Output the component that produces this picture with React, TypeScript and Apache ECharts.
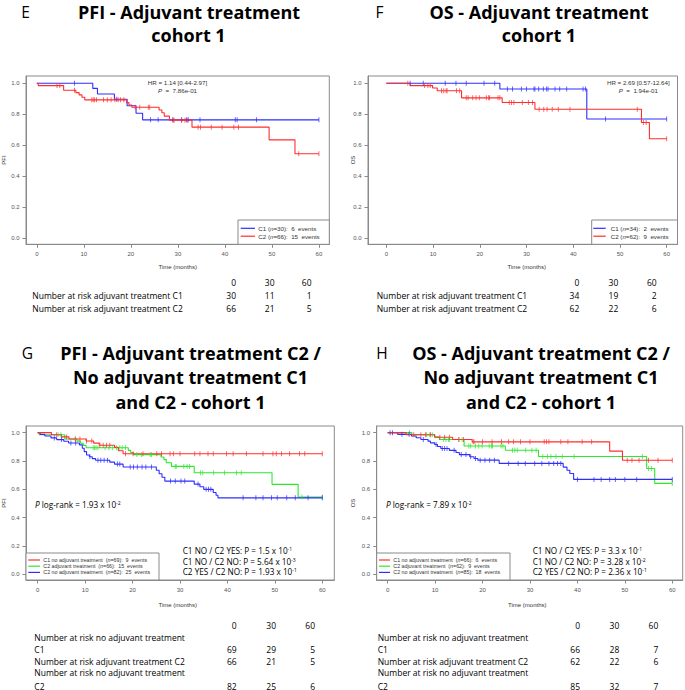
import React, { useEffect, useRef } from "react";
import * as echarts from "echarts";

// ---------- axis ticks ----------
const xTickValues = [0, 10, 20, 30, 40, 50, 60];
const yTickValues = [0, 0.2, 0.4, 0.6, 0.8, 1.0];
const riskTimes = [0, 30, 60];

// ---------- Panel E : PFI, adjuvant treatment, cohort 1 ----------
const eC1Times = [0, 11.9, 12.9, 16.5, 19.2, 21.1, 22.5, 60];
const eC1Surv = [1, 0.967, 0.931, 0.897, 0.855, 0.807, 0.764, 0.764];
const eC1Censor = [8.0, 17.0, 24.2, 25.8, 28.9, 30.8, 31.8, 32.2, 34.7, 42.2, 42.6, 46.7, 60];

// adjuvant-treated C2, PFI (panel E red, panel G green)
const adjC2PfiTimes = [0, 0.3, 5.7, 8.3, 9.0, 9.6, 10.2, 19.1, 19.6, 20.2, 26.0, 26.6, 27.1, 28.2, 33.0, 49.4, 54.9, 60];
const adjC2PfiSurv = [1, 0.985, 0.955, 0.94, 0.925, 0.91, 0.893, 0.875, 0.86, 0.845, 0.828, 0.81, 0.788, 0.762, 0.717, 0.635, 0.545, 0.545];
const adjC2PfiCensor = [4.3, 4.9, 8.0, 11.7, 12.0, 12.3, 12.7, 14.2, 15.0, 15.8, 16.6, 17.3, 17.8, 18.5, 20.9, 21.9, 23.7, 24.0, 29.0, 29.2, 30.8, 31.5, 32.0, 34.3, 34.8, 37.1, 39.4, 41.9, 42.9, 55.7, 60];

// ---------- Panel F : OS, adjuvant treatment, cohort 1 ----------
const fC1Times = [0, 24.3, 42.9, 60];
const fC1Surv = [1, 0.963, 0.77, 0.77];
const fC1Censor = [5.1, 7.9, 12.6, 14.9, 17.1, 20.9, 23.2, 25.9, 27.0, 28.9, 30.0, 31.6, 31.8, 32.6, 33.6, 34.3, 34.6, 36.1, 37.1, 38.6, 42.1, 42.6, 46.9, 60];

// adjuvant-treated C2, OS (panel F red, panel H green)
const adjC2OsTimes = [0, 5.1, 9.9, 10.9, 16.1, 24.8, 31.8, 54.6, 56.3, 60];
const adjC2OsSurv = [1, 0.985, 0.97, 0.952, 0.906, 0.876, 0.832, 0.747, 0.642, 0.642];
const adjC2OsCensor = [4.6, 8.2, 8.9, 9.4, 11.8, 12.3, 12.8, 13.0, 15.0, 15.7, 17.1, 17.5, 18.5, 19.2, 19.9, 21.4, 21.9, 22.1, 23.9, 24.3, 26.3, 26.8, 27.3, 29.1, 30.4, 31.3, 32.7, 33.7, 34.4, 35.5, 36.8, 39.3, 53.7, 55.0, 55.6, 60];

// ---------- Panel G : PFI, three groups ----------
const gC1NoTimes = [0, 2.9, 5.0, 6.6, 10.2, 11.8, 13.0, 16.2, 17.0, 18.0, 60];
const gC1NoSurv = [1, 0.985, 0.97, 0.955, 0.941, 0.926, 0.911, 0.896, 0.872, 0.851, 0.851];
const gC1NoCensor = [4.0, 6.1, 7.9, 8.9, 10.3, 11.4, 13.1, 13.8, 14.5, 15.2, 18.5, 20.1, 22.2, 25.1, 26.1, 27.9, 28.6, 30.0, 33.1, 34.2, 35.9, 37.0, 39.8, 41.2, 44.0, 47.5, 49.6, 50.3, 51.4, 53.1, 55.2, 56.3, 60];

const gC2NoTimes = [0, 0.5, 1.5, 2.8, 4.0, 5.5, 6.5, 8.8, 9.4, 9.8, 10.3, 10.9, 11.5, 12.2, 15.2, 16.2, 18.0, 25.0, 25.6, 26.2, 26.8, 33.0, 34.2, 35.0, 37.0, 37.6, 38.0, 60];
const gC2NoSurv = [1, 0.988, 0.976, 0.963, 0.951, 0.939, 0.927, 0.914, 0.89, 0.866, 0.842, 0.83, 0.817, 0.805, 0.792, 0.778, 0.758, 0.735, 0.71, 0.685, 0.658, 0.637, 0.618, 0.6, 0.578, 0.558, 0.54, 0.54];
const gC2NoCensor = [3.5, 5.0, 7.0, 8.0, 11.0, 12.7, 13.3, 14.0, 14.7, 16.8, 17.3, 19.5, 20.2, 21.0, 22.0, 22.8, 24.0, 28.0, 29.0, 30.2, 31.0, 33.8, 35.5, 36.0, 36.5, 43.3, 46.0, 47.5, 49.3, 50.5, 52.5, 54.3, 57.0, 60];

// ---------- Panel H : OS, three groups ----------
const hC1NoTimes = [0, 3.9, 9.9, 13.7, 17.8, 46.8, 49.5, 60];
const hC1NoSurv = [1, 0.985, 0.968, 0.952, 0.935, 0.87, 0.805, 0.805];
const hC1NoCensor = [5.5, 7.0, 8.0, 9.0, 11.0, 12.0, 13.0, 15.0, 16.0, 18.0, 18.2, 20.0, 22.0, 24.0, 25.5, 26.5, 28.0, 30.0, 33.0, 33.5, 34.0, 36.5, 38.0, 41.0, 43.0, 50.5, 51.5, 53.0, 55.0, 57.0, 60];

const hC2NoTimes = [0, 2.1, 5.0, 6.0, 7.0, 8.5, 9.0, 9.9, 10.5, 11.2, 13.0, 14.4, 15.1, 17.3, 18.2, 19.0, 23.5, 37.0, 37.8, 38.4, 39.2, 60];
const hC2NoSurv = [1, 0.988, 0.976, 0.964, 0.952, 0.94, 0.928, 0.916, 0.902, 0.888, 0.875, 0.86, 0.845, 0.83, 0.818, 0.806, 0.783, 0.757, 0.735, 0.712, 0.67, 0.67];
const hC2NoCensor = [0.5, 1.0, 3.0, 4.5, 7.5, 10.2, 11.5, 12.0, 12.5, 14.0, 15.5, 16.5, 17.5, 18.5, 19.5, 20.5, 21.5, 22.5, 25.5, 27.5, 29.0, 31.0, 32.5, 34.0, 35.0, 35.8, 36.5, 40.0, 43.5, 45.0, 46.8, 48.0, 50.0, 52.5, 60];

// ---------- numbers at risk ----------
const eRiskC1 = [30, 11, 1];
const eRiskC2 = [66, 21, 5];
const fRiskC1 = [34, 19, 2];
const fRiskC2 = [62, 22, 6];
const gRiskC1No = [69, 29, 5];
const gRiskC2Adj = [66, 21, 5];
const gRiskC2No = [82, 25, 6];
const hRiskC1No = [66, 28, 7];
const hRiskC2Adj = [62, 22, 6];
const hRiskC2No = [85, 32, 7];

// ---------- legends / statistics ----------
const eLegend = ["C1 ({i|n}=30):  6  events", "C2 ({i|n}=66):  15  events"];
const fLegend = ["C1 ({i|n}=34):  2  events", "C2 ({i|n}=62):  9  events"];
const gLegend = [
  "C1 no adjuvant treatment  ({i|n}=69):  9  events",
  "C2 adjuvant treatment  ({i|n}=66):  15  events",
  "C2 no adjuvant treatment  ({i|n}=82):  25  events",
];
const hLegend = [
  "C1 no adjuvant treatment  ({i|n}=66):  6  events",
  "C2 adjuvant treatment  ({i|n}=62):  9  events",
  "C2 no adjuvant treatment  ({i|n}=85):  18  events",
];
const eHR = ["HR = 1.14 [0.44-2.97]", "{i|P}  =  7.86e-01"];
const fHR = ["HR = 2.69 [0.57-12.64]", "{i|P}  =  1.94e-01"];
const gLogRank = "{i|P} log-rank = 1.93 x 10{s|-2}";
const hLogRank = "{i|P} log-rank = 7.89 x 10{s|-2}";
const gPairs = [
  "C1 NO / C2 YES: P = 1.5 x 10{s|-1}",
  "C1 NO / C2 NO: P = 5.64 x 10{s|-3}",
  "C2 YES / C2 NO: P = 1.93 x 10{s|-1}",
];
const hPairs = [
  "C1 NO / C2 YES: P = 3.3 x 10{s|-1}",
  "C1 NO / C2 NO: P = 3.28 x 10{s|-2}",
  "C2 YES / C2 NO: P = 2.36 x 10{s|-1}",
];

const RED = "#ff2e2e";
const BLUE = "#2e2eff";
const GREEN = "#2ee82e";
const BOX = "#8a8a8a";
const RFONT = "Liberation Sans";
const CFONT = "Open Sans";

function survAt(times: number[], surv: number[], t: number) {
  let v = surv[0];
  for (let k = 0; k < times.length; k++) if (times[k] <= t) v = surv[k];
  return v;
}

type Curve = { times: number[]; surv: number[]; censor: number[]; color: string };
type Panel = {
  grid: { left: number; top: number; width: number; height: number };
  xMin: number; xMax: number; yMin: number; yMax: number;
  curves: Curve[];
};

const panels: Panel[] = [
  {
    grid: { left: 26, top: 76, width: 303.3, height: 168.3 },
    xMin: -2.3, xMax: 62.2, yMin: -0.039, yMax: 1.047,
    curves: [
      { times: eC1Times, surv: eC1Surv, censor: eC1Censor, color: BLUE },
      { times: adjC2PfiTimes, surv: adjC2PfiSurv, censor: adjC2PfiCensor, color: RED },
    ],
  },
  {
    grid: { left: 368, top: 76, width: 309.5, height: 168.3 },
    xMin: -3.92, xMax: 62.31, yMin: -0.039, yMax: 1.047,
    curves: [
      { times: fC1Times, surv: fC1Surv, censor: fC1Censor, color: BLUE },
      { times: adjC2OsTimes, surv: adjC2OsSurv, censor: adjC2OsCensor, color: RED },
    ],
  },
  {
    grid: { left: 26, top: 426, width: 308.3, height: 154 },
    xMin: -2.47, xMax: 62.53, yMin: -0.04, yMax: 1.047,
    curves: [
      { times: adjC2PfiTimes, surv: adjC2PfiSurv, censor: adjC2PfiCensor, color: GREEN },
      { times: gC2NoTimes, surv: gC2NoSurv, censor: gC2NoCensor, color: BLUE },
      { times: gC1NoTimes, surv: gC1NoSurv, censor: gC1NoCensor, color: RED },
    ],
  },
  {
    grid: { left: 376.7, top: 426, width: 306, height: 154 },
    xMin: -2.32, xMax: 62.2, yMin: -0.04, yMax: 1.047,
    curves: [
      { times: adjC2OsTimes, surv: adjC2OsSurv, censor: adjC2OsCensor, color: GREEN },
      { times: hC2NoTimes, surv: hC2NoSurv, censor: hC2NoCensor, color: BLUE },
      { times: hC1NoTimes, surv: hC1NoSurv, censor: hC1NoCensor, color: RED },
    ],
  },
];

function richFor(fs: number, ff: string, fill: string) {
  return {
    i: { fontStyle: "italic", fontSize: fs, fontFamily: ff, fill },
    s: { fontSize: fs * 0.62, fontFamily: ff, fill, verticalAlign: "top" },
  };
}

function T(x: number, y: number, text: string, o: any = {}) {
  const fs = o.fs ?? 8.5;
  const ff = o.ff ?? CFONT;
  const fill = o.fill ?? "#000";
  return {
    type: "text",
    x,
    y,
    rotation: o.rotation ?? 0,
    silent: true,
    z: 20,
    style: {
      text,
      fill,
      fontSize: fs,
      fontFamily: ff,
      fontWeight: o.fw ?? "normal",
      textAlign: o.align ?? "left",
      textVerticalAlign: "middle",
      rich: richFor(fs, ff, fill),
    },
  };
}

function legendBox(x: number, y: number, w: number, h: number, rows: string[], colors: string[], rowY: number[], lx1: number, lx2: number, tx: number, fs: number) {
  const els: any[] = [
    { type: "rect", z: 15, silent: true, shape: { x, y, width: w, height: h }, style: { fill: "#fff", stroke: BOX, lineWidth: 1 } },
  ];
  rows.forEach((r, k) => {
    els.push({ type: "line", z: 16, silent: true, shape: { x1: lx1, y1: rowY[k], x2: lx2, y2: rowY[k] }, style: { stroke: colors[k], lineWidth: 1.2 } });
    els.push(T(tx, rowY[k], r, { fs, ff: RFONT, fill: "#333" }));
  });
  return els;
}

function riskTable(labelX: number, colRight: number[], headerY: number, rows: { label: string[]; ys: number[]; values: number[] }[]) {
  const els: any[] = [];
  riskTimes.forEach((t, k) => els.push(T(colRight[k], headerY, String(t), { align: "right" })));
  rows.forEach((r) => {
    r.label.forEach((l, k) => els.push(T(labelX, r.ys[k], l)));
    const vy = r.ys[r.ys.length - 1];
    r.values.forEach((v, k) => els.push(T(colRight[k], vy, String(v), { align: "right" })));
  });
  return els;
}

function buildOption() {
  const grid = panels.map((p) => ({
    ...p.grid,
    show: true,
    borderColor: BOX,
    borderWidth: 1,
    backgroundColor: "transparent",
    containLabel: false,
  }));
  const xAxis = panels.map((p, i) => ({
    gridIndex: i,
    type: "value",
    min: p.xMin,
    max: p.xMax,
    axisLine: { show: true, onZero: false, lineStyle: { color: BOX, width: 1 } },
    axisTick: { show: true, length: 3.5, customValues: xTickValues, lineStyle: { color: BOX, width: 1 } },
    axisLabel: { customValues: xTickValues, fontSize: 6, color: "#555", margin: 7, fontFamily: RFONT },
    splitLine: { show: false },
  }));
  const yAxis = panels.map((p, i) => ({
    gridIndex: i,
    type: "value",
    min: p.yMin,
    max: p.yMax,
    axisLine: { show: true, onZero: false, lineStyle: { color: BOX, width: 1 } },
    axisTick: { show: true, length: 3.5, customValues: yTickValues, lineStyle: { color: BOX, width: 1 } },
    axisLabel: {
      customValues: yTickValues,
      fontSize: 6,
      color: "#555",
      margin: 6.5,
      fontFamily: RFONT,
      formatter: (v: number) => v.toFixed(1),
    },
    splitLine: { show: false },
  }));

  const series: any[] = [];
  panels.forEach((p, i) => {
    p.curves.forEach((c) => {
      series.push({
        type: "line",
        xAxisIndex: i,
        yAxisIndex: i,
        step: "end",
        symbol: "none",
        silent: true,
        z: 2,
        data: c.times.map((t, k) => [t, c.surv[k]]),
        lineStyle: { color: c.color, width: 1.1 },
        itemStyle: { color: c.color },
      });
      series.push({
        type: "scatter",
        xAxisIndex: i,
        yAxisIndex: i,
        symbol: "rect",
        symbolSize: [0.9, 5],
        silent: true,
        z: 3,
        data: c.censor.map((t) => [t, survAt(c.times, c.surv, t)]),
        itemStyle: { color: c.color },
      });
    });
  });

  const title = { fs: 18, fw: "bold", align: "center" };
  const letter = { fs: 15.5, align: "center" };
  const rsmall = { fs: 6, ff: RFONT, fill: "#333", align: "center" };
  const stat = { fs: 8.2 };

  const graphic: any[] = [
    // panel letters
    T(25.5, 11.5, "E", letter),
    T(379.5, 11.5, "F", letter),
    T(27.5, 353, "G", letter),
    T(382, 353, "H", letter),
    // titles
    T(189, 11.5, "PFI - Adjuvant treatment", title),
    T(188.5, 35, "cohort 1", title),
    T(539, 11.5, "OS - Adjuvant treatment", title),
    T(539, 35, "cohort 1", title),
    T(190.5, 352.5, "PFI - Adjuvant treatment C2 /", title),
    T(190.5, 377, "No adjuvant treatment C1", title),
    T(190.5, 402, "and C2 - cohort 1", title),
    T(541, 352.5, "OS - Adjuvant treatment C2 /", title),
    T(541, 377, "No adjuvant treatment C1", title),
    T(541, 402, "and C2 - cohort 1", title),
    // axis names
    T(177.7, 266.7, "Time (months)", rsmall),
    T(526.7, 266.7, "Time (months)", rsmall),
    T(177.7, 605, "Time (months)", rsmall),
    T(527.3, 605, "Time (months)", rsmall),
    T(3.8, 160, "PFI", { ...rsmall, rotation: Math.PI / 2 }),
    T(353.3, 160, "OS", { ...rsmall, rotation: Math.PI / 2 }),
    T(4, 503, "PFI", { ...rsmall, rotation: Math.PI / 2 }),
    T(353.3, 503, "OS", { ...rsmall, rotation: Math.PI / 2 }),
    // HR texts
    T(177.5, 82.7, eHR[0], { ...rsmall, fs: 6.2 }),
    T(177.5, 90.8, eHR[1], { ...rsmall, fs: 6.2 }),
    T(638.3, 82.7, fHR[0], { ...rsmall, fs: 6.2 }),
    T(638.3, 90.8, fHR[1], { ...rsmall, fs: 6.2 }),
    // log-rank
    T(35, 504, gLogRank, stat),
    T(386, 504, hLogRank, stat),
    ...gPairs.map((s, k) => T(182.7, [550.7, 561, 571.3][k], s, stat)),
    ...hPairs.map((s, k) => T(532.7, [550.7, 561, 571.3][k], s, stat)),
    // legends
    ...legendBox(238, 220, 91.3, 24.3, eLegend, [BLUE, RED], [228.3, 236.2], 240.7, 255, 258.3, 6.2),
    ...legendBox(591.7, 220, 85.8, 24.3, fLegend, [BLUE, RED], [228.3, 236.2], 593.3, 605.7, 610.7, 6.2),
    ...legendBox(26, 553, 133, 27, gLegend, [RED, GREEN, BLUE], [560, 566.2, 572.4], 28.3, 40, 43.3, 5.3),
    ...legendBox(376.7, 553, 133.3, 27, hLegend, [RED, GREEN, BLUE], [560, 566.2, 572.4], 379, 390, 393.3, 5.3),
    // numbers at risk
    ...riskTable(32.3, [236, 274.5, 311.5], 282.7, [
      { label: ["Number at risk adjuvant treatment C1"], ys: [295.3], values: eRiskC1 },
      { label: ["Number at risk adjuvant treatment C2"], ys: [308.3], values: eRiskC2 },
    ]),
    ...riskTable(376.7, [579.3, 618.3, 656.7], 282.7, [
      { label: ["Number at risk adjuvant treatment C1"], ys: [295.3], values: fRiskC1 },
      { label: ["Number at risk adjuvant treatment C2"], ys: [308.3], values: fRiskC2 },
    ]),
    ...riskTable(34.3, [236.7, 276, 315], 625, [
      { label: ["Number at risk no adjuvant treatment", "C1"], ys: [637.7, 649], values: gRiskC1No },
      { label: ["Number at risk adjuvant treatment C2"], ys: [661.7], values: gRiskC2Adj },
      { label: ["Number at risk no adjuvant treatment", "C2"], ys: [672.7, 686], values: gRiskC2No },
    ]),
    ...riskTable(377.7, [580, 619.3, 658.3], 625, [
      { label: ["Number at risk no adjuvant treatment", "C1"], ys: [637.7, 649], values: hRiskC1No },
      { label: ["Number at risk adjuvant treatment C2"], ys: [661.7], values: hRiskC2Adj },
      { label: ["Number at risk no adjuvant treatment", "C2"], ys: [672.7, 686], values: hRiskC2No },
    ]),
  ];

  return {
    animation: false,
    backgroundColor: "#ffffff",
    grid,
    xAxis,
    yAxis,
    series,
    graphic,
  };
}

export default function App() {
  const ref = useRef<HTMLDivElement>(null);
  useEffect(() => {
    if (!ref.current) return;
    const chart = echarts.init(ref.current, undefined, { renderer: "svg" });
    chart.setOption(buildOption() as any);
    return () => chart.dispose();
  }, []);
  return (
    <div
      ref={ref}
      style={{ position: "absolute", left: 0, top: 0, width: 685, height: 690, background: "#fff" }}
    />
  );
}
